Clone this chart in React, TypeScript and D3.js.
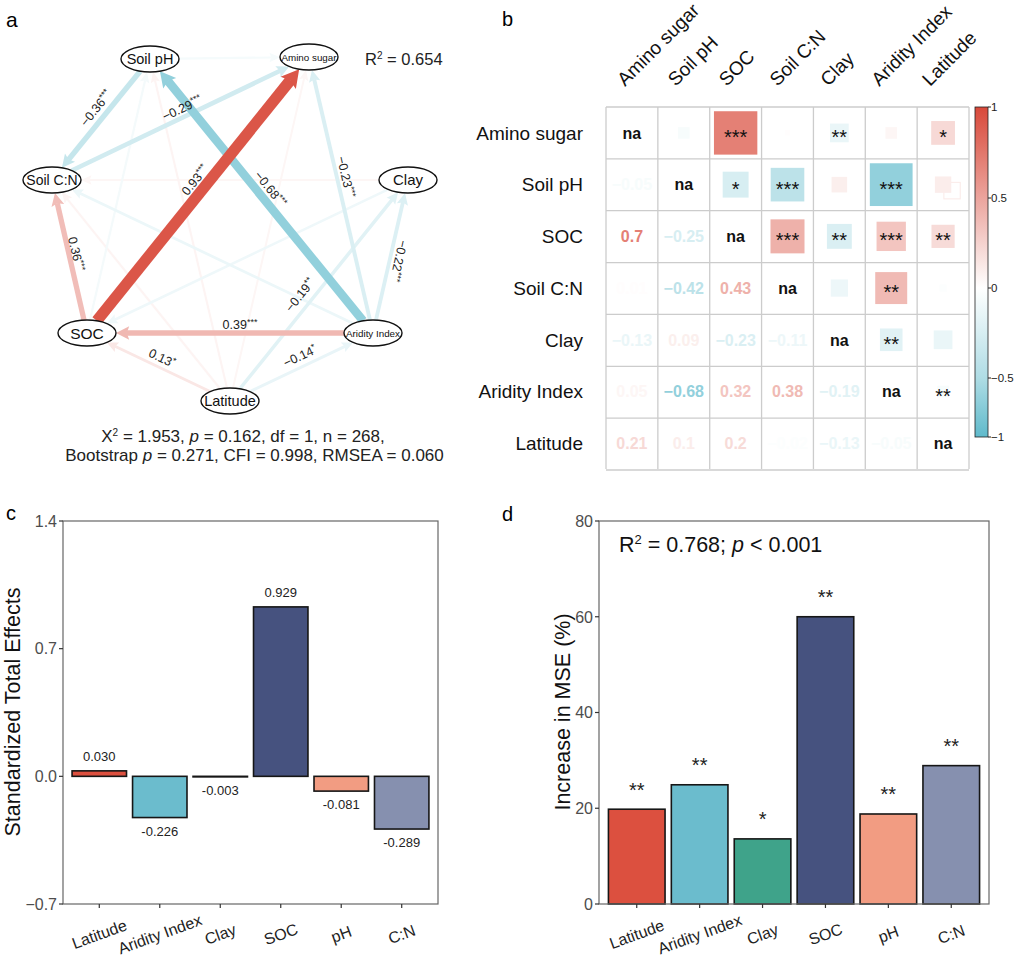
import React from "react";
import * as d3 from "d3";

const FONT = "'Liberation Sans', Arial, Helvetica, sans-serif";

// ---------------- Panel a: SEM ----------------
const semNodes = ["Soil pH", "Amino sugar", "Soil C:N", "Clay", "SOC", "Aridity Index", "Latitude"];
// diagram layout (node centres)
const semNodeX = [150, 309, 52, 408, 87, 373, 230];
const semNodeY = [59, 57, 180, 180, 333, 333, 401];
const semNodeFont = [14.5, 9.8, 14, 15, 15.5, 9.8, 14.5];

// [from, to, standardized coefficient, significance]
const semPaths: [string, string, number, string][] = [
  ["SOC", "Amino sugar", 0.93, "***"],
  ["Aridity Index", "Soil pH", -0.68, "***"],
  ["Soil pH", "Soil C:N", -0.36, "***"],
  ["Soil C:N", "Amino sugar", -0.29, "***"],
  ["Aridity Index", "Amino sugar", -0.23, "***"],
  ["Aridity Index", "Clay", -0.22, "***"],
  ["SOC", "Soil C:N", 0.36, "***"],
  ["Aridity Index", "SOC", 0.39, "***"],
  ["Latitude", "SOC", 0.13, "*"],
  ["Latitude", "Aridity Index", -0.14, "*"],
  ["Latitude", "Clay", -0.19, "**"],
  ["Soil pH", "Amino sugar", -0.06, ""],
  ["Latitude", "Soil pH", 0.06, ""],
  ["SOC", "Soil pH", -0.07, ""],
  ["Clay", "Soil C:N", 0.05, ""],
  ["Aridity Index", "Soil C:N", -0.12, ""],
  ["Clay", "SOC", -0.1, ""],
  ["Latitude", "Amino sugar", 0.05, ""],
  ["Latitude", "Soil C:N", 0.06, ""],
];
// label placement along each path: [fraction along, offset above, flip]
const semLabelLayout: ([number, number, boolean] | null)[] = [
  [0.528, 11.7, false],
  [0.499, 11.3, false],
  [0.463, 11.1, false],
  [0.521, 8.7, false],
  [0.558, 8.8, false],
  [0.484, 9.1, true],
  [0.506, 7.1, false],
  [0.465, 8, false],
  [0.504, 9.7, false],
  [0.521, 10.6, false],
  [0.446, 12.1, false],
  null, null, null, null, null, null, null, null,
];
const semR2 = "0.654";
const semFit1 = ["1.953", "0.162", "1", "268"];
const semFit2 = ["0.271", "0.998", "0.060"];

// ---------------- Panel b: correlation matrix ----------------
const corrVars = ["Amino sugar", "Soil pH", "SOC", "Soil C:N", "Clay", "Aridity Index", "Latitude"];
const corrLower: number[][] = [
  [],
  [-0.05],
  [0.7, -0.25],
  [0.01, -0.42, 0.43],
  [-0.13, 0.09, -0.23, -0.11],
  [0.05, -0.68, 0.32, 0.38, -0.19],
  [0.21, 0.1, 0.2, -0.02, -0.13, -0.05],
];
const corrStars: string[][] = [
  ["", "", "***", "", "**", "", "*"],
  ["", "", "*", "***", "", "***", ""],
  ["", "", "", "***", "**", "***", "**"],
  ["", "", "", "", "", "**", ""],
  ["", "", "", "", "", "**", ""],
  ["", "", "", "", "", "", "**"],
  ["", "", "", "", "", "", ""],
];
const colorbarTicks = [1, 0.5, 0, -0.5, -1];

// ---------------- Panel c / d ----------------
const predictors = ["Latitude", "Aridity Index", "Clay", "SOC", "pH", "C:N"];
const totalEffects = [0.03, -0.226, -0.003, 0.929, -0.081, -0.289];
const totalEffectLabels = ["0.030", "-0.226", "-0.003", "0.929", "-0.081", "-0.289"];
const effectTicks = [-0.7, 0.0, 0.7, 1.4];
const mseIncrease = [19.8, 24.9, 13.6, 60.0, 18.8, 28.9];
const mseStars = ["**", "**", "*", "**", "**", "**"];
const mseTicks = [0, 20, 40, 60, 80];
const predictorColors = ["#DC503F", "#6BBCCD", "#3FA38A", "#46527F", "#F29C82", "#8690AF"];

const corrColor = d3.scaleLinear<string>().domain([-1, 0, 1]).range(["#5fbacb", "#ffffff", "#d8493a"]);

const fmtMinus = (s: string) => s.replace(/-/g, "\u2212");

function PanelA() {
  const RX = 29, RY = 13;
  const idx = (n: string) => semNodes.indexOf(n);
  const bnd = (ux: number, uy: number) => 1 / Math.sqrt((ux / RX) ** 2 + (uy / RY) ** 2);
  const geo = semPaths.map(([f, t, c, s], i) => {
    const a = idx(f), b = idx(t);
    const x1 = semNodeX[a], y1 = semNodeY[a], x2 = semNodeX[b], y2 = semNodeY[b];
    const dx = x2 - x1, dy = y2 - y1, len = Math.hypot(dx, dy);
    const ux = dx / len, uy = dy / len;
    const tb = bnd(ux, uy);
    const sx = x1 + ux * tb, sy = y1 + uy * tb;
    const tx = x2 - ux * tb, ty = y2 - uy * tb;
    const w = 1.5 + 10.5 * Math.abs(c);
    const L = 9 + w * 0.75, hw = 3.6 + w * 0.55;
    const ex = tx - ux * L * 0.8, ey = ty - uy * L * 0.8;
    const bx = tx - ux * L, by = ty - uy * L;
    const head = `${tx},${ty} ${bx - uy * hw},${by + ux * hw} ${tx - ux * L * 0.82},${ty - uy * L * 0.82} ${bx + uy * hw},${by - ux * hw}`;
    return { i, c, s, x1, y1, dx, dy, sx, sy, ex, ey, w, head, col: corrColor(c) };
  });
  const order = [...geo].sort((p, q) => Math.abs(p.c) - Math.abs(q.c));
  return (
    <g>
      <text x={6} y={27} fontSize={21}>a</text>
      {order.map((g) => (
        <g key={"e" + g.i}>
          <line x1={g.sx} y1={g.sy} x2={g.ex} y2={g.ey} stroke={g.col} strokeWidth={g.w} />
          <polygon points={g.head} fill={g.col} />
        </g>
      ))}
      {geo.map((g) => {
        const lay = semLabelLayout[g.i];
        if (!lay) return null;
        const [t, off, flip] = lay;
        let ang = (Math.atan2(g.dy, g.dx) * 180) / Math.PI;
        if (ang > 90) ang -= 180;
        if (ang <= -90) ang += 180;
        if (flip) ang += 180;
        const r = (ang * Math.PI) / 180;
        const upx = Math.sin(r), upy = -Math.cos(r);
        const px = g.x1 + t * g.dx + off * upx;
        const py = g.y1 + t * g.dy + off * upy;
        return (
          <text key={"l" + g.i} transform={`translate(${px},${py}) rotate(${ang})`} textAnchor="middle" dy="0.35em" fontSize={12.5} fill="#222">
            {fmtMinus(String(g.c))}
            <tspan fontSize={9} dy={-4}>{g.s}</tspan>
          </text>
        );
      })}
      {semNodes.map((n, i) => (
        <g key={n}>
          <ellipse cx={semNodeX[i]} cy={semNodeY[i]} rx={RX} ry={RY} fill="#fff" stroke="#111" strokeWidth={1.4} />
          <text x={semNodeX[i]} y={semNodeY[i]} dy="0.36em" textAnchor="middle" fontSize={semNodeFont[i]} fill="#111">{n}</text>
        </g>
      ))}
      <text x={365} y={65} fontSize={16.5} fill="#222">
        R<tspan fontSize={10} dy={-6}>2</tspan><tspan dy={6}>{" = " + semR2}</tspan>
      </text>
      <text x={243} y={442} textAnchor="middle" fontSize={17} fill="#222">
        X<tspan fontSize={10} dy={-6}>2</tspan><tspan dy={6}>{" = " + semFit1[0] + ", "}</tspan>
        <tspan fontStyle="italic">p</tspan>{" = " + semFit1[1] + ", df = " + semFit1[2] + ", n = " + semFit1[3] + ","}
      </text>
      <text x={254.5} y={461} textAnchor="middle" fontSize={17} fill="#222">
        {"Bootstrap "}<tspan fontStyle="italic">p</tspan>{" = " + semFit2[0] + ", CFI = " + semFit2[1] + ", RMSEA = " + semFit2[2]}
      </text>
    </g>
  );
}

function PanelB() {
  const x = d3.scaleBand<string>().domain(corrVars).range([606, 969]);
  const y = d3.scaleBand<string>().domain(corrVars).range([107, 469]);
  const labX = d3.scalePoint<string>().domain(corrVars).range([625, 930]);
  const bw = x.bandwidth();
  const r = (i: number, j: number) => (i > j ? corrLower[i][j] : corrLower[j][i]);
  const cb = d3.scaleLinear().domain([-1, -0.5, 0, 0.5, 1]).range([437, 378, 288, 198, 107]);
  const cbTop = 107, cbBot = 437;
  const stops = d3.range(0, 41).map((k) => 1 - k * 0.05);
  const cells: React.ReactNode[] = [];
  corrVars.forEach((rv, i) => {
    corrVars.forEach((cv, j) => {
      const cx = (x(cv) as number) + bw / 2;
      const cy = (y(rv) as number) + bw / 2;
      if (i === j) {
        cells.push(<text key={`d${i}`} x={cx} y={cy} dy="0.36em" textAnchor="middle" fontSize={16} fontWeight="bold" fill="#111">na</text>);
      } else if (i > j) {
        const v = r(i, j);
        cells.push(<text key={`n${i}${j}`} x={cx} y={cy} dy="0.36em" textAnchor="middle" fontSize={16} fontWeight="bold" fill={corrColor(v)}>{fmtMinus(String(v))}</text>);
      } else {
        const v = r(i, j);
        const side = Math.sqrt(Math.abs(v)) * bw;
        cells.push(<rect key={`s${i}${j}`} x={cx - side / 2} y={cy - side / 2} width={side} height={side} fill={corrColor(v)} />);
        if (rv === "Soil pH" && cv === "Latitude") {
          cells.push(<rect key="artifact" x={cx - side / 2 + 9} y={cy - side / 2 + 6} width={side} height={side} fill="none" stroke={corrColor(v)} strokeWidth={1.2} />);
        }
        if (corrStars[i][j]) {
          cells.push(<text key={`t${i}${j}`} x={cx} y={cy + 11} textAnchor="middle" fontSize={20} fill="#111">{corrStars[i][j]}</text>);
        }
      }
    });
  });
  return (
    <g>
      <text x={502} y={26} fontSize={20}>b</text>
      {corrVars.map((v) => (
        <text key={"c" + v} transform={`translate(${labX(v)},87) rotate(-45)`} fontSize={19} fill="#111">{v}</text>
      ))}
      {corrVars.map((v) => (
        <text key={"r" + v} x={583} y={(y(v) as number) + bw / 2} dy="0.36em" textAnchor="end" fontSize={19} fill="#111">{v}</text>
      ))}
      {cells}
      {d3.range(0, 8).map((k) => (
        <g key={"g" + k}>
          <line x1={606 + k * bw} x2={606 + k * bw} y1={107} y2={469} stroke="#cccccc" strokeWidth={1.3} />
          <line y1={107 + k * bw} y2={107 + k * bw} x1={606} x2={969} stroke="#cccccc" strokeWidth={1.3} />
        </g>
      ))}
      <defs>
        <linearGradient id="cbgrad" x1="0" x2="0" y1={cbTop} y2={cbBot} gradientUnits="userSpaceOnUse">
          {stops.map((s) => (
            <stop key={s} offset={(cb(s) - cbTop) / (cbBot - cbTop)} stopColor={corrColor(s)} />
          ))}
        </linearGradient>
      </defs>
      <rect x={975} y={cbTop} width={13} height={cbBot - cbTop} fill="url(#cbgrad)" stroke="#222" strokeWidth={0.8} />
      {colorbarTicks.map((t) => (
        <g key={"cb" + t}>
          <line x1={988} x2={991} y1={cb(t)} y2={cb(t)} stroke="#222" />
          <text x={991} y={cb(t)} dy="0.36em" fontSize={11.5} fill="#222">{fmtMinus(String(t))}</text>
        </g>
      ))}
    </g>
  );
}

function BarPanel(props: {
  left: number; right: number; domain: [number, number]; ticks: number[]; titleX: number;
  values: number[]; title: string; tickFmt: (v: number) => string; children?: React.ReactNode;
  annotate: (i: number, x: number, w: number, yv: number, y0: number) => React.ReactNode;
}) {
  const top = 521, bottom = 904;
  const x = d3.scaleBand<string>().domain(predictors).range([props.left, props.right]).paddingInner(0.1).paddingOuter(0.15);
  const y = d3.scaleLinear().domain(props.domain).range([bottom, top]);
  const y0 = y(Math.max(0, props.domain[0]));
  return (
    <g>
      {props.values.map((v, i) => {
        const bx = x(predictors[i]) as number;
        const yv = y(v);
        return (
          <g key={"b" + i}>
            <rect x={bx} y={Math.min(yv, y0)} width={x.bandwidth()} height={Math.max(0.01, Math.abs(yv - y0))} fill={predictorColors[i]} stroke="#161616" strokeWidth={1.6} />
            {props.annotate(i, bx + x.bandwidth() / 2, x.bandwidth(), yv, y0)}
          </g>
        );
      })}
      <rect x={props.left} y={top} width={props.right - props.left} height={bottom - top} fill="none" stroke="#666" strokeWidth={1.2} />
      {props.ticks.map((t) => (
        <g key={"yt" + t}>
          <line x1={props.left - 4} x2={props.left} y1={y(t)} y2={y(t)} stroke="#333" strokeWidth={1.2} />
          <text x={props.left - 6} y={y(t)} dy="0.36em" textAnchor="end" fontSize={16} fill="#4d4d4d">{props.tickFmt(t)}</text>
        </g>
      ))}
      {predictors.map((p) => {
        const cx = (x(p) as number) + x.bandwidth() / 2;
        return (
          <g key={"xt" + p}>
            <line x1={cx} x2={cx} y1={bottom} y2={bottom + 4} stroke="#333" strokeWidth={1.2} />
            <text transform={`translate(${cx},934) rotate(-20)`} dy="0.36em" textAnchor="middle" fontSize={16} fill="#222">{p}</text>
          </g>
        );
      })}
      <text transform={`translate(${props.titleX},712) rotate(-90)`} textAnchor="middle" fontSize={21.5} fill="#111">{props.title}</text>
      {props.children}
    </g>
  );
}

function PanelC() {
  return (
    <g>
      <text x={6} y={520} fontSize={20}>c</text>
      <BarPanel
        left={63} right={438} domain={[-0.7, 1.4]} ticks={effectTicks} titleX={20}
        values={totalEffects} title="Standardized Total Effects"
        tickFmt={(v) => fmtMinus(d3.format(".1f")(v))}
        annotate={(i, cx, w, yv, y0) => {
          const v = totalEffects[i];
          const ly = v >= 0 ? yv - 10 : Math.max(yv, y0) + 18;
          return <text x={cx} y={ly} textAnchor="middle" fontSize={13} fill="#222">{totalEffectLabels[i]}</text>;
        }}
      />
    </g>
  );
}

function PanelD() {
  return (
    <g>
      <text x={502} y={521} fontSize={20}>d</text>
      <BarPanel
        left={599} right={989} domain={[0, 80]} ticks={mseTicks} titleX={570}
        values={mseIncrease} title="Increase in MSE (%)"
        tickFmt={(v) => String(v)}
        annotate={(i, cx, w, yv) => (
          <text x={cx} y={yv - 12.5} textAnchor="middle" fontSize={20} fill="#222">{mseStars[i]}</text>
        )}
      >
        <text x={619} y={552} fontSize={21.5} fill="#111">
          R<tspan fontSize={13} dy={-8}>2</tspan><tspan dy={8}>{" = 0.768; "}</tspan><tspan fontStyle="italic">p</tspan>{" < 0.001"}
        </text>
      </BarPanel>
    </g>
  );
}

export default function App() {
  return (
    <div style={{ position: "absolute", left: 0, top: 0 }}>
      <svg width={1015} height={956} style={{ display: "block", background: "#fff" }} fontFamily={FONT}>
        <PanelA />
        <PanelB />
        <PanelC />
        <PanelD />
      </svg>
    </div>
  );
}
